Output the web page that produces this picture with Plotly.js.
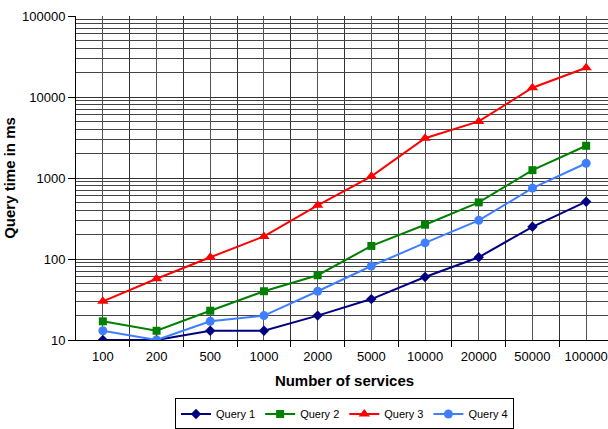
<!DOCTYPE html>
<html><head><meta charset="utf-8">
<script src="https://cdn.plot.ly/plotly-3.0.1.min.js"></script>
<style>html,body{margin:0;padding:0;background:#fff;overflow:hidden;width:608px;height:429px}</style>
</head><body><div id="chart" style="width:613px;height:429px"></div>
<script>
const categories = ["100","200","500","1000","2000","5000","10000","20000","50000","100000"];
const query1 = [10, 10, 13, 13, 20, 32, 60, 105, 250, 510];
const query2 = [17, 13, 23, 40, 63, 145, 265, 500, 1250, 2500];
const query3 = [30, 57, 105, 190, 460, 1050, 3100, 5000, 13000, 23000];
const query4 = [13, 10, 17, 20, 40, 82, 158, 300, 750, 1520];
const seriesNames = ["Query 1","Query 2","Query 3","Query 4"];
const yTickVals = [10, 100, 1000, 10000, 100000];
const yTickText = ["10","100","1000","10000","100000"];

const idx = categories.map((_, i) => i);
const bounds = categories.map((_, i) => i + 0.5).slice(0, -1);

const styles = [
  {color:'#000080', symbol:'diamond', size:8},
  {color:'#008000', symbol:'square', size:8},
  {color:'#ff0000', symbol:'triangle-up', size:10},
  {color:'#3f7fff', symbol:'circle', size:9}
];
const data = [query1, query2, query3, query4].map((ys, k) => ({
  x: idx, y: ys, name: seriesNames[k], type:'scatter', mode:'lines+markers',
  line:{color:styles[k].color, width:2},
  marker:{color:styles[k].color, symbol:styles[k].symbol, size:styles[k].size}
}));

const layout = {
  width:613, height:429,
  margin:{l:76, r:0, t:16, b:89, autoexpand:false},
  paper_bgcolor:'#fff', plot_bgcolor:'#fff',
  font:{family:'Liberation Sans, Arial, sans-serif', size:13, color:'#000'},
  showlegend:true,
  legend:{orientation:'h', x:0.5, xanchor:'center', xref:'paper', yref:'container', y:0.035, yanchor:'middle',
    bordercolor:'#000', borderwidth:1, font:{size:11}, itemwidth:30, tracegroupgap:0},
  xaxis:{
    range:[-0.5, 9.5], tickmode:'array', tickvals:idx, ticktext:categories,
    showgrid:true, gridcolor:'#555', gridwidth:1, zeroline:false,
    showline:true, linecolor:'#000', linewidth:1, ticks:'', ticklabelstandoff:4,
    minor:{tickmode:'array', tickvals:bounds, showgrid:true, gridcolor:'#333', gridwidth:1, ticks:'outside', ticklen:6, tickcolor:'#000'},
    title:{text:'Number of services', font:{size:15, weight:'bold'}, standoff:12},
    tickfont:{size:13}, fixedrange:true
  },
  yaxis:{
    type:'log', range:[1, 5], tickmode:'array', tickvals:yTickVals, ticktext:yTickText,
    showgrid:true, gridcolor:'#333', gridwidth:1, zeroline:false,
    showline:true, linecolor:'#000', linewidth:1, ticks:'outside', ticklen:7, tickcolor:'#000',
    minor:{dtick:'D1', showgrid:true, gridcolor:'#444', gridwidth:1},
    title:{text:'Query time in ms', font:{size:15, weight:'bold'}, standoff:2},
    tickfont:{size:13}
  }
};
Plotly.newPlot('chart', data, layout, {displayModeBar:false, staticPlot:true});
</script></body></html>
